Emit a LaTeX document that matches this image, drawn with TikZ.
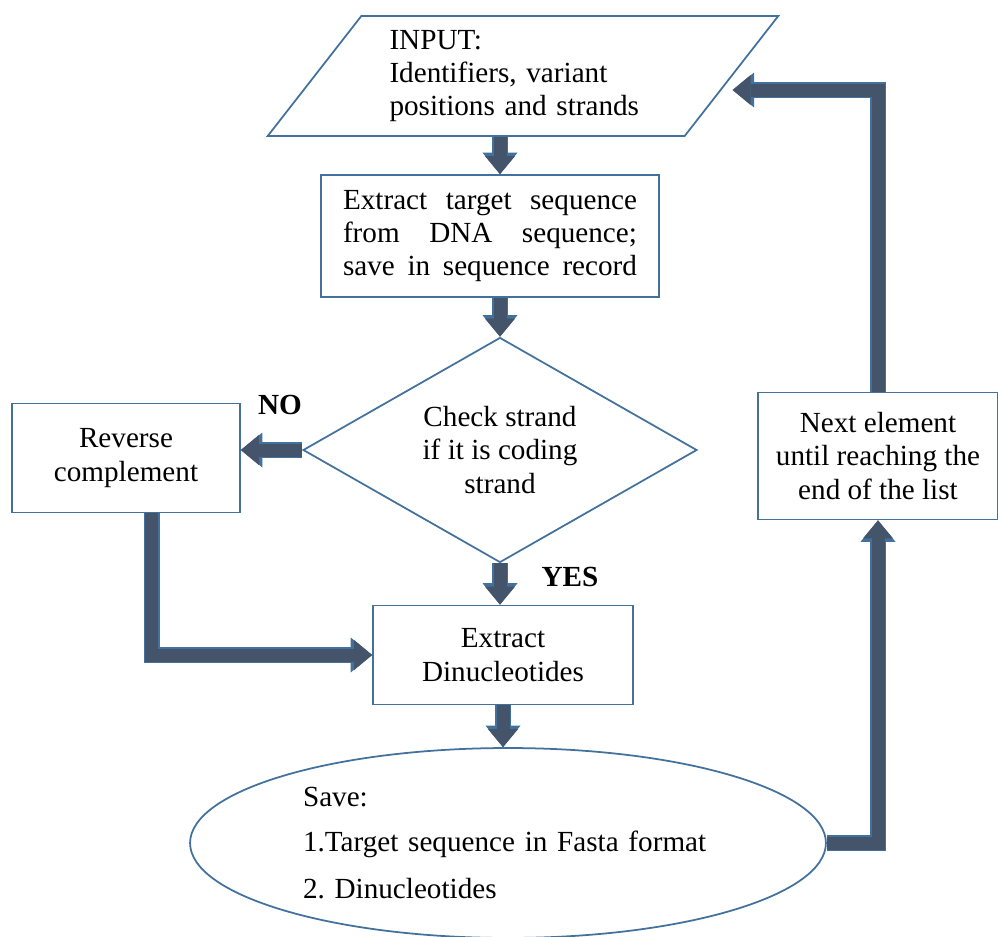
\documentclass[tikz,border=0pt]{standalone}
\usepackage{fontspec}
\setmainfont{Liberation Serif}
\usetikzlibrary{shapes.geometric}
\usetikzlibrary{arrows.meta}

\definecolor{boxblue}{RGB}{65,113,156}
\definecolor{arrowfill}{RGB}{68,84,106}

\begin{document}
\begin{tikzpicture}[x=0.02cm,y=-0.02cm,
        every node/.style={font=\fontsize{16.6}{19}\selectfont},
        box/.style={draw=boxblue,line width=1pt,rectangle,align=center,inner sep=0pt},
        para/.style={draw=boxblue,line width=1pt,trapezium,trapezium left angle=50,
            trapezium right angle=130,trapezium stretches=true,inner sep=0pt},
        decision/.style={draw=boxblue,line width=1pt,diamond,align=center,inner sep=0pt},
        oval/.style={draw=boxblue,line width=1pt,ellipse,inner sep=0pt},
        lbl/.style={font=\fontsize{16.6}{19}\selectfont\bfseries},
        flow/.style={draw=arrowfill,line width=0.26cm,
            -{Triangle[width=0.6cm,length=0.36cm,line width=0pt]},
            preaction={draw=boxblue,line width=0.32cm,
                -{Triangle[width=0.7cm,length=0.43cm,line width=0pt]}}}]
                    \useasboundingbox (0,0) rectangle (998,937);
                    % shapes
                    \node[para,minimum width=10.22cm,minimum height=2.4cm,
                        text width=5.34cm,align=left] (inp) at (523,76)
                        {INPUT:\\Identifiers, variant\\positions and strands};
                    \node[box,minimum width=6.76cm,minimum height=2.44cm] (ext) at (490,236)
                        {\makebox[5.88cm][s]{Extract target sequence}\\
                         \makebox[5.88cm][s]{from DNA sequence;}\\
                         \makebox[5.88cm][s]{save in sequence record}};
                    \node[decision,minimum width=7.88cm,minimum height=4.5cm,aspect=1.75]
                        (chk) at (500,450) {Check strand\\if it is coding\\strand};
                    \node[box,minimum width=4.56cm,minimum height=2.18cm] (rev) at (126,458)
                        {Reverse\\complement};
                    \node[box,minimum width=5.2cm,minimum height=1.98cm] (dinu) at (503,655)
                        {Extract\\Dinucleotides};
                    \node[oval,minimum width=12.72cm,minimum height=3.8cm,
                        text width=8.2cm,align=left] (save) at (508,843)
                        {Save:\\[6.7pt]1.Target sequence in Fasta format\\[7.4pt]2.\ Dinucleotides};
                    \node[box,minimum width=4.8cm,minimum height=2.54cm] (next) at (878,456)
                        {Next element\\until reaching the\\end of the list};
                    \node[lbl] (nolbl) at (280,405) {NO};
                    \node[lbl] (yeslbl) at (570,577) {YES};
                    % arrows
                    \draw[flow] (inp.south -| chk.north) -- (ext.north -| chk.north);
                    \draw[flow] (ext.south -| chk.north) -- (chk.north);
                    \draw[flow] (chk.west) -- (chk.west -| rev.east);
                    \draw[flow] (chk.south) -- (chk.south |- dinu.north);
                    \draw[flow] ([xshift=0.52cm]rev.south) |- (dinu.west);
                    \draw[flow] (dinu.south) -- (dinu.south |- save.north);
                    \draw[flow] (save.east) -| (next.south);
                    \draw[flow] (next.north) |- ([yshift=-0.28cm]inp.east);
                \end{tikzpicture}
\end{document}
